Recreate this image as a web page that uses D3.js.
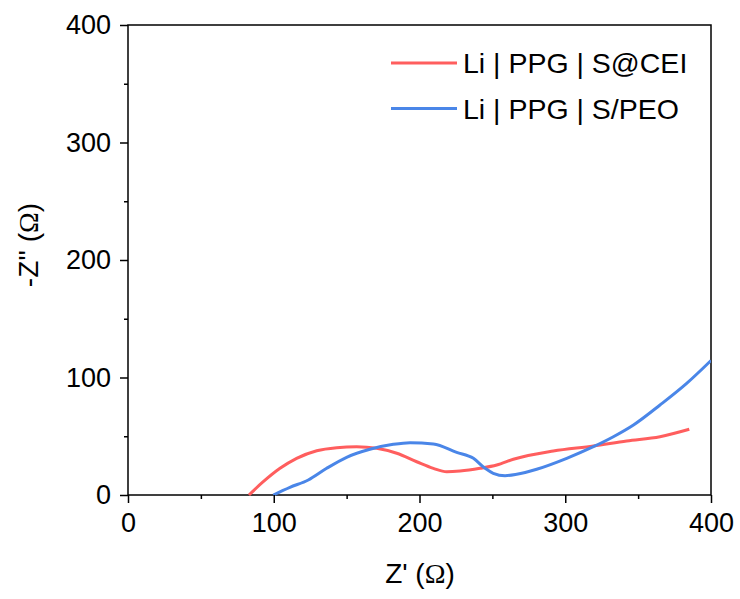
<!DOCTYPE html>
<html><head><meta charset="utf-8">
<script src="https://cdn.jsdelivr.net/npm/d3@7"></script>
<style>body{margin:0;background:#fff;} svg{display:block;} text{font-family:"Liberation Sans",Arial,sans-serif;}</style>
</head><body>
<svg id="c" width="740" height="599"></svg>
<script>
const seriesNames = ["Li | PPG | S@CEI", "Li | PPG | S/PEO"];
const seriesColors = ["#ff5e5e", "#4a86e8"];
const ceiX = [83, 92.8, 104.3, 115.7, 129.5, 143.2, 156.9, 170.6, 184.4, 198.1, 209.5, 218.7, 227.8, 241.5, 253, 264.4, 291.8, 319.3, 342.2, 365, 385.1];
const ceiY = [0, 11.3, 22.7, 31.2, 37.7, 40.3, 41.1, 39.7, 35.5, 28.3, 22.7, 19.8, 20.4, 22.7, 25.5, 30.4, 37.4, 41.7, 46, 49.6, 55.9];
const peoX = [99.7, 111.1, 123.7, 136.3, 150, 166, 182, 193.5, 209.5, 225.5, 237, 245, 250.6, 258.7, 266.7, 280.4, 301, 319.3, 333, 346.8, 365, 383.3, 400];
const peoY = [0, 6.5, 12.8, 22.7, 32.1, 38.9, 43.1, 44.5, 43.4, 36.3, 31.2, 22.7, 18.5, 16.4, 17.6, 21.9, 31.2, 41.1, 49.6, 59.6, 76.6, 95, 114.5];
const xTicks = [0, 100, 200, 300, 400];
const yTicks = [0, 100, 200, 300, 400];
const minorTicks = [50, 150, 250, 350];

const svg = d3.select("#c");
const L = 128, R = 711, T = 25, B = 495;
const x = d3.scaleLinear().domain([0, 400]).range([L, R]);
const y = d3.scaleLinear().domain([0, 400]).range([B, T]);

// frame
svg.append("rect").attr("x", L).attr("y", T).attr("width", R - L).attr("height", B - T)
  .attr("fill", "none").attr("stroke", "#000").attr("stroke-width", 1.5);

// curves
const line = d3.line().x(d => x(d[0])).y(d => y(d[1])).curve(d3.curveMonotoneX);
const data = [d3.zip(ceiX, ceiY), d3.zip(peoX, peoY)];
svg.append("clipPath").attr("id", "cl").append("rect").attr("x", L).attr("y", T).attr("width", R - L).attr("height", B - T + 2);
data.forEach((d, i) => {
  svg.append("path").attr("d", line(d)).attr("fill", "none").attr("stroke", seriesColors[i])
    .attr("stroke-width", 3).attr("clip-path", "url(#cl)");
});

// axes
const xAxis = d3.axisBottom(x).tickValues(xTicks).tickSize(8).tickPadding(10).tickFormat(d3.format("d"));
svg.append("g").attr("transform", `translate(0,${B})`).call(xAxis);
const yAxis = d3.axisLeft(y).tickValues(yTicks).tickSize(8).tickPadding(9).tickFormat(d3.format("d"));
svg.append("g").attr("transform", `translate(${L},0)`).call(yAxis);
svg.append("g").attr("transform", `translate(0,${B})`).call(d3.axisBottom(x).tickValues(minorTicks).tickSize(4).tickFormat(""));
svg.append("g").attr("transform", `translate(${L},0)`).call(d3.axisLeft(y).tickValues(minorTicks).tickSize(4).tickFormat(""));
svg.selectAll(".domain").remove();
svg.selectAll(".tick line").attr("stroke", "#000").attr("stroke-width", 1.5);
svg.selectAll(".tick text").attr("font-size", 27).attr("fill", "#000").style("font-family", "Liberation Sans, Arial, sans-serif");

// axis titles
const xt = svg.append("text").attr("x", 420).attr("y", 583).attr("text-anchor", "middle").attr("font-size", 28);
xt.append("tspan").text("Z' (");
xt.append("tspan").style("font-family", "Liberation Serif, Times New Roman, serif").text("Ω");
xt.append("tspan").text(")");
const yt = svg.append("text").attr("transform", `translate(38,245) rotate(-90)`).attr("text-anchor", "middle").attr("font-size", 28);
yt.append("tspan").text("-Z'' (");
yt.append("tspan").style("font-family", "Liberation Serif, Times New Roman, serif").text("Ω");
yt.append("tspan").text(")");

// legend
seriesNames.forEach((n, i) => {
  const yy = 63 + i * 45.5;
  svg.append("line").attr("x1", 391).attr("x2", 457).attr("y1", yy).attr("y2", yy).attr("stroke", seriesColors[i]).attr("stroke-width", 3);
  svg.append("text").attr("x", 463).attr("y", yy + 10).attr("font-size", 28.5).text(n);
});
</script>
</body></html>
